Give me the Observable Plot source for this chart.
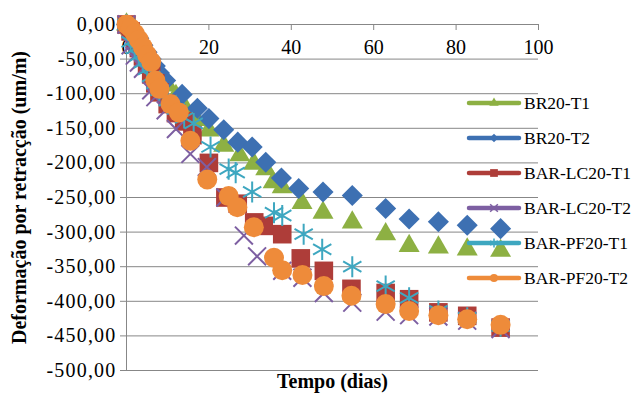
<!DOCTYPE html>
<html><head><meta charset="utf-8">
<script src="https://cdn.jsdelivr.net/npm/d3@7"></script>
<script src="https://cdn.jsdelivr.net/npm/@observablehq/plot@0.6"></script>
<style>
body{margin:0;background:#fff;}
#wrap{position:relative;width:633px;height:396px;font-family:"Liberation Serif","Times New Roman",serif;}
#legend{position:absolute;left:0;top:0;width:633px;height:396px;pointer-events:none;}
.item{position:absolute;left:466px;height:20px;display:flex;align-items:center;font-size:17.5px;color:#000;white-space:nowrap;}
.item svg{margin-right:2px;}
#wrap svg text{font-family:"Liberation Serif","Times New Roman",serif;}
g[aria-label="y-axis tick label"] text{letter-spacing:1.2px;}
</style></head><body><div id="wrap"></div>
<script>
// ---- data ----
const seriesNames = ["BR20-T1","BR20-T2","BAR-LC20-T1","BAR-LC20-T2","BAR-PF20-T1","BAR-PF20-T2"];
const seriesColors = ["#8DB043","#3D70B2","#AE3D39","#7D5FA2","#3EA7C0","#EE8B3A"];
const seriesSymbols = ["triangle","diamond2","square","times","asterisk","circle"];

const daysBR20T1 = [0,1,2,3,4,5,6,7,8,10,12,14,17,20,23.6,27.5,30.9,33.8,35.6,37.8,42.6,47.7,54.8,62.9,68.6,75.7,82.7,90.8];
const valsBR20T1 = [0,-6,-14,-23,-33,-43,-53,-63,-73,-88,-103,-118,-138,-153,-175,-189,-201,-209,-228,-235,-258,-272,-286,-303,-320,-322,-325,-327];

const daysBR20T2 = [0,1,2,3,4,5,6,7,8,9.5,13.5,17.2,20,23.6,27,30.5,33.8,37.6,41.8,47.7,54.8,62.9,68.6,75.7,82.7,90.8];
const valsBR20T2 = [0,-5,-12,-20,-30,-40,-50,-60,-70,-81,-101,-121,-136,-152,-170,-177,-199,-222,-237,-242,-247,-266,-281,-285,-290,-295];

const daysBARLC20T1 = [0,1,2,3,4,5,6,7,8,10,12,14,16,20,24,27,31,33.3,37.8,42.3,47.9,54.6,62.9,68.6,75.7,82.7,90.8];
const valsBARLC20T1 = [0,-10,-22,-34,-46,-58,-72,-85,-98,-115,-128,-140,-160,-200,-250,-259,-286,-291,-303,-338,-356,-382,-388,-397,-416,-421,-438];

const daysBARLC20T2 = [0,1,2,3,4,6,7,9.5,12,15.5,19.5,24,28.5,31.7,37.8,42.7,47.9,54.8,62.9,68.6,75.7,82.7,90.8];
const valsBARLC20T2 = [0,-30,-45,-55,-64,-95,-105,-124,-151,-187,-206,-250,-305,-335,-356,-366,-388,-402,-415,-420,-422,-428,-440];

const daysBARPF20T1 = [0,1,2,3,4,5,6,7,8,10,12,14,16.3,20.4,24.8,26.5,30.5,35.8,37.8,43,47.5,54.8,62.9,68.6,75.7,82.7,90.8];
const valsBARPF20T1 = [0,-25,-35,-45,-55,-65,-75,-85,-95,-110,-122,-135,-143,-177,-209,-214,-242,-272,-276,-303,-325,-350,-378,-395,-414,-424,-436];

const daysBARPF20T2 = [0,1,2,3,4,5,6,7,8,10.7,12.7,15.5,19.6,24.8,26.9,30.9,35.8,37.8,42.7,47.9,54.6,62.9,68.6,75.7,82.7,90.8];
const valsBARPF20T2 = [0,-5,-13,-22,-33,-44,-54,-81,-93,-115,-127,-168,-224,-248,-264,-293,-337,-355,-362,-378,-392,-404,-414,-420,-426,-434];

const xTicks = [0,20,40,60,80,100];
const yTicks = [0,-50,-100,-150,-200,-250,-300,-350,-400,-450,-500];
const xLabel = "Tempo (dias)";
const yLabel = "Deformação por retracção (um/m)";

// ---- build ----
const allDays = [daysBR20T1,daysBR20T2,daysBARLC20T1,daysBARLC20T2,daysBARPF20T1,daysBARPF20T2];
const allVals = [valsBR20T1,valsBR20T2,valsBARLC20T1,valsBARLC20T2,valsBARPF20T1,valsBARPF20T2];
const rows = seriesNames.map((s, k) => allDays[k].map((d, i) => ({series: s, day: d, value: allVals[k][i]})));

const markR = [7.8, 9.5, 10.5, 8.2, 10, 10];
const strokeOnly = new Set(["times","asterisk"]);
const grid = "#878787";

const dotMarks = seriesNames.map((s, k) => {
  const sym = seriesSymbols[k];
  const o = {x: "day", y: "value", symbol: () => sym, r: markR[k]};
  if (strokeOnly.has(sym)) { o.stroke = seriesColors[k]; o.strokeWidth = 2; o.fill = "none"; }
  else { o.fill = seriesColors[k]; o.stroke = "none"; }
  return Plot.dot(rows[k], o);
});

const chart = Plot.plot({
  width: 633, height: 396,
  marginLeft: 126, marginRight: 95, marginTop: 24, marginBottom: 26,
  style: {fontFamily: '"Liberation Serif","Times New Roman",serif', fontSize: "20px", color: "#000", background: "#fff"},
  x: {domain: [0, 100], axis: null},
  y: {domain: [-500, 0], axis: null},
  symbol: {type: "identity"},
  marks: [
    Plot.ruleY(yTicks, {stroke: grid, strokeWidth: 1}),
    Plot.ruleX([xTicks[0]], {stroke: grid, strokeWidth: 1}),
    Plot.ruleX(xTicks, {x: d => d, y1: () => yTicks[0], y2: () => yTicks[0], insetBottom: -6, stroke: grid}),
    Plot.axisY({ticks: yTicks, tickSize: 6, tickPadding: 4, stroke: grid, fill: "#000", fontSize: 20,
      tickFormat: d => d.toFixed(2).replace(".", ","), label: null}),
    Plot.text(xTicks, {x: d => d, y: () => yTicks[0], dy: 23, text: d => String(d), fontSize: 20, fill: "#000"}),
    Plot.text([yLabel], {frameAnchor: "left", textAnchor: "middle", rotate: -90, dx: -107, fontWeight: "bold", fontSize: 20, fill: "#000"}),
    Plot.text([xLabel], {frameAnchor: "bottom", textAnchor: "middle", dy: 17, fontWeight: "bold", fontSize: 20, fill: "#000"}),
    ...dotMarks
  ]
});
const wrap = document.getElementById("wrap");
wrap.appendChild(chart);

// ---- legend ----
const legend = document.createElement("div");
legend.id = "legend";
const legendSize = [38, 45, 60, 40, 55, 50];
seriesNames.forEach((s, k) => {
  const item = document.createElement("div");
  item.className = "item";
  item.style.top = (93 + 35 * k) + "px";
  const sym = seriesSymbols[k];
  const symObj = {triangle: d3.symbolTriangle, diamond2: d3.symbolDiamond2, square: d3.symbolSquare,
    times: d3.symbolTimes, asterisk: d3.symbolAsterisk, circle: d3.symbolCircle}[sym];
  const path = d3.symbol(symObj, legendSize[k])();
  const c = seriesColors[k];
  const symAttr = strokeOnly.has(sym) ? `fill="none" stroke="${c}" stroke-width="1.5"` : `fill="${c}"`;
  item.innerHTML = `<svg width="56" height="20"><line x1="3" x2="53" y1="10" y2="10" stroke="${c}" stroke-width="4.5" stroke-linecap="round"/><path d="${path}" transform="translate(28,10)" ${symAttr}/></svg><span>${s}</span>`;
  legend.appendChild(item);
});
wrap.appendChild(legend);
</script>
</body></html>
